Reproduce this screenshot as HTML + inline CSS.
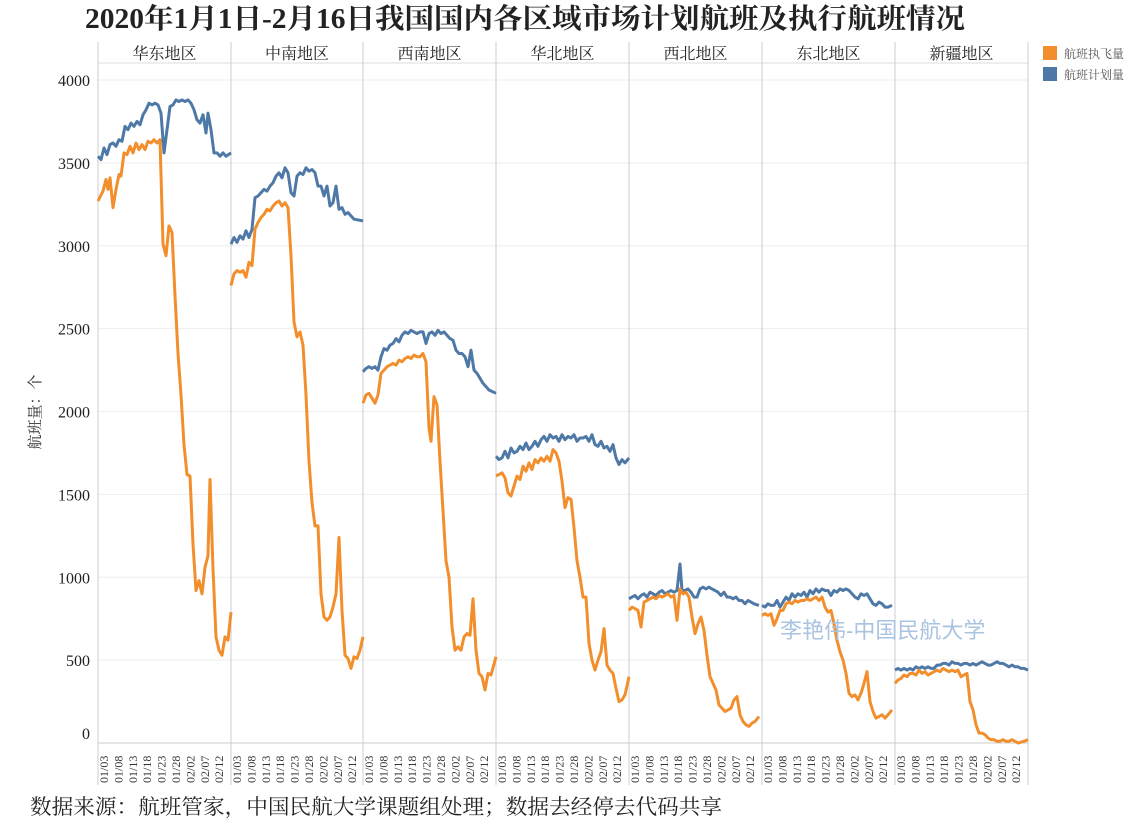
<!DOCTYPE html>
<html><head><meta charset="utf-8"><style>
body{margin:0;background:#fff;}
svg{display:block;font-family:"Liberation Serif","Noto Serif CJK SC",serif;}
</style></head><body>
<svg id="s" width="1144" height="825" xmlns="http://www.w3.org/2000/svg">
<text x="525" y="28" font-size="28" font-weight="bold" text-anchor="middle" fill="#222" textLength="880" lengthAdjust="spacingAndGlyphs">2020年1月1日-2月16日我国国内各区域市场计划航班及执行航班情况</text>
<g id="g"></g>
<text x="780" y="638" font-size="22" fill="#a9c3e0" font-family="Liberation Sans,Noto Sans CJK SC,sans-serif">李艳伟-中国民航大学</text>
<text x="30" y="814" font-size="21" fill="#222" textLength="692" lengthAdjust="spacingAndGlyphs">数据来源：航班管家，中国民航大学课题组处理；数据去经停去代码共享</text>
<text transform="translate(40,412) rotate(-90)" font-size="15" text-anchor="middle" fill="#333">航班量：个</text>
<rect x="1043" y="46" width="14" height="14" fill="#f28e2b"/>
<text x="1064" y="58" font-size="12" fill="#555">航班执飞量</text>
<rect x="1043" y="67" width="14" height="14" fill="#4e79a7"/>
<text x="1064" y="79" font-size="12" fill="#555">航班计划量</text>
</svg>
<script>
const NS="http://www.w3.org/2000/svg",g=document.getElementById('g');
function el(t,a,txt){const e=document.createElementNS(NS,t);for(const k in a)e.setAttribute(k,a[k]);if(txt!==undefined)e.textContent=txt;g.appendChild(e);return e;}
const Y=v=>743-v*0.16575;
const L=[98,231,363,496,629,762,895,1028];
const names=["华东地区","中南地区","西南地区","华北地区","西北地区","东北地区","新疆地区"];
for(let v=500;v<=4000;v+=500){el('line',{x1:98,x2:1028,y1:Y(v),y2:Y(v),stroke:'#eee','stroke-width':1});}
for(let v=0;v<=4000;v+=500){el('text',{x:90,y:(v==0?739:Y(v)+6),'font-size':16,'text-anchor':'end',fill:'#222'},v);}
el('line',{x1:98,x2:1028,y1:63,y2:63,stroke:'#ddd'});
el('line',{x1:98,x2:1028,y1:743,y2:743,stroke:'#ccc'});
L.forEach(x=>el('line',{x1:x,x2:x,y1:42,y2:785,stroke:'#ccc'}));
names.forEach((n,i)=>el('text',{x:(L[i]+L[i+1])/2,y:59,'font-size':16,'text-anchor':'middle',fill:'#222'},n));
const dl=["01/03","01/08","01/13","01/18","01/23","01/28","02/02","02/07","02/12"];
for(let i=0;i<7;i++)dl.forEach((d,j)=>{const x=L[i]+6+j*14.4;el('text',{transform:`translate(${x+4},783) rotate(-90)`,'font-size':12,fill:'#333'},d);});
const ex=[
[98,3270,103,3330,106,3400,108,3340,110,3410,113,3230,116,3340,119,3430,121,3420,124,3560,127,3550,130,3600,133,3560,136,3620,139,3580,142,3610,145,3580,148,3630,151,3620,154,3640,157,3620,160,3640,163,3010,166,2940,169,3120,172,3080,175,2700,178,2350,181,2100,184,1800,187,1620,190,1610,193,1200,196,920,199,980,202,900,205,1060,208,1130,210,1590,213,1050,216,640,219,560,222,530,225,640,228,620,231,790],
[231,2760,234,2830,237,2850,240,2840,243,2850,246,2810,249,2900,252,2880,255,3100,258,3140,261,3170,264,3190,267,3220,270,3210,273,3240,276,3260,279,3270,282,3240,285,3260,288,3230,291,2940,294,2540,297,2450,300,2480,303,2400,306,2100,309,1700,312,1450,315,1310,318,1310,321,900,324,760,327,740,330,760,333,820,336,900,339,1240,342,800,345,530,348,510,351,450,354,520,357,510,360,560,363,640],
[363,2050,366,2100,369,2110,372,2080,375,2050,378,2100,381,2230,384,2250,387,2270,390,2280,393,2290,396,2280,399,2310,402,2300,405,2320,408,2330,411,2320,414,2340,417,2330,420,2330,423,2350,426,2300,429,1900,431,1820,434,2090,437,2040,440,1700,443,1400,446,1100,449,1000,452,700,455,560,458,580,461,560,464,640,467,660,470,650,473,870,476,560,479,420,482,400,485,320,488,420,491,410,496,520],
[496,1610,499,1620,502,1630,505,1600,508,1510,511,1490,514,1550,517,1610,520,1590,523,1670,526,1640,529,1690,532,1650,535,1710,538,1690,541,1720,544,1700,547,1730,550,1700,553,1770,556,1750,559,1700,562,1580,565,1420,568,1480,571,1470,574,1300,577,1100,580,1000,583,880,586,880,589,600,592,500,595,440,598,500,601,550,604,690,607,470,610,440,613,420,616,330,619,250,622,260,625,290,629,400],
[629,800,632,820,635,810,638,800,641,700,644,850,647,860,650,870,653,880,656,870,659,890,662,880,665,890,668,900,671,880,674,890,677,740,680,930,683,900,686,910,689,880,692,760,695,660,698,720,701,760,704,680,707,530,710,400,713,360,716,320,719,230,722,210,725,190,728,200,731,210,734,260,737,280,740,170,743,130,746,110,749,100,752,120,755,130,759,160],
[762,770,765,780,768,770,771,780,774,710,777,750,780,800,783,800,786,840,789,850,792,840,795,860,798,850,801,860,804,860,807,870,810,860,813,870,816,880,819,860,822,880,825,820,828,790,831,800,834,720,837,620,840,550,843,500,846,420,849,300,852,280,855,290,858,260,861,300,864,360,867,430,870,250,873,190,876,150,879,160,882,170,885,150,888,170,892,200],
[895,360,898,380,901,390,904,410,907,400,910,420,913,420,916,410,919,440,922,420,925,430,928,410,931,420,934,430,937,440,940,430,943,450,946,440,949,430,952,440,955,430,958,440,961,400,964,410,967,420,970,250,973,200,976,110,979,60,982,60,985,50,988,30,991,20,994,20,997,10,1000,10,1003,20,1006,10,1009,10,1012,20,1015,10,1018,0,1021,5,1024,10,1028,20]];
const pl=[
[98,3540,101,3520,104,3590,107,3550,110,3610,113,3620,116,3600,119,3640,122,3630,125,3720,128,3700,131,3740,134,3720,137,3750,140,3730,143,3790,146,3820,149,3860,152,3850,155,3860,158,3850,161,3800,164,3560,167,3700,170,3840,173,3850,176,3880,179,3870,182,3880,185,3870,188,3880,191,3860,194,3820,197,3760,200,3740,203,3790,206,3680,208,3800,211,3700,214,3560,217,3560,220,3540,223,3560,226,3540,231,3560],
[231,3010,234,3050,237,3020,240,3060,243,3040,246,3090,249,3050,252,3100,255,3290,258,3300,261,3320,264,3340,267,3330,270,3360,273,3380,276,3420,279,3440,282,3410,285,3470,288,3440,291,3320,294,3300,297,3420,300,3440,303,3430,306,3470,309,3450,312,3460,315,3440,318,3360,321,3360,324,3300,327,3360,330,3240,333,3260,336,3360,339,3220,342,3230,345,3190,348,3200,351,3180,354,3160,363,3150],
[363,2240,366,2260,369,2270,372,2260,375,2270,378,2250,381,2330,384,2380,387,2370,390,2400,393,2410,396,2440,399,2420,402,2460,405,2480,408,2470,411,2490,414,2480,417,2470,420,2480,423,2480,426,2410,429,2470,432,2480,435,2460,438,2490,441,2470,444,2480,447,2460,450,2440,453,2430,456,2370,459,2350,462,2350,465,2330,468,2270,471,2370,474,2250,477,2230,480,2200,483,2170,486,2150,489,2130,496,2110],
[496,1730,499,1710,502,1720,505,1760,508,1720,511,1780,514,1750,517,1760,520,1790,523,1770,526,1810,529,1770,532,1790,535,1820,538,1790,541,1830,544,1850,547,1820,550,1860,553,1840,556,1850,559,1820,562,1860,565,1830,568,1850,571,1840,574,1860,577,1820,580,1840,583,1840,586,1850,589,1820,592,1860,595,1800,598,1790,601,1820,604,1780,607,1790,610,1760,613,1800,616,1720,619,1680,622,1710,625,1690,629,1720],
[629,870,632,880,635,890,638,870,641,890,644,900,647,880,650,910,653,900,656,890,659,910,662,920,665,900,668,910,671,920,674,910,677,920,680,1080,682,920,685,920,688,930,691,910,694,880,697,880,700,930,703,940,706,930,709,940,712,930,715,920,718,910,721,890,724,910,727,880,730,880,733,870,736,880,739,860,742,860,745,840,748,860,751,850,754,840,759,830],
[762,830,765,820,768,840,771,830,774,830,777,860,780,820,783,850,786,880,789,860,792,900,795,880,798,900,801,890,804,910,807,880,810,920,813,900,816,930,819,910,822,930,825,920,828,920,831,890,834,920,837,910,840,930,843,920,846,930,849,920,852,900,855,880,858,870,861,900,864,890,867,900,870,870,873,840,876,830,879,850,882,840,885,820,888,820,892,830],
[895,440,898,450,901,440,904,450,907,440,910,450,913,440,916,460,919,450,922,460,925,450,928,460,931,450,934,450,937,470,940,470,943,480,946,480,949,470,952,490,955,480,958,480,961,470,964,480,967,480,970,470,973,480,976,470,979,480,982,490,985,480,988,470,991,470,994,480,997,490,1000,480,1003,480,1006,470,1009,460,1012,470,1015,460,1018,460,1021,450,1024,450,1028,440]];
function path(a,c){let p=[];for(let i=0;i<a.length;i+=2)p.push(a[i]+','+Y(a[i+1]).toFixed(1));el('polyline',{points:p.join(' '),fill:'none',stroke:c,'stroke-width':3,'stroke-linejoin':'round'});}
pl.forEach(a=>path(a,'#4e79a7'));ex.forEach(a=>path(a,'#f28e2b'));
</script>
</body></html>
